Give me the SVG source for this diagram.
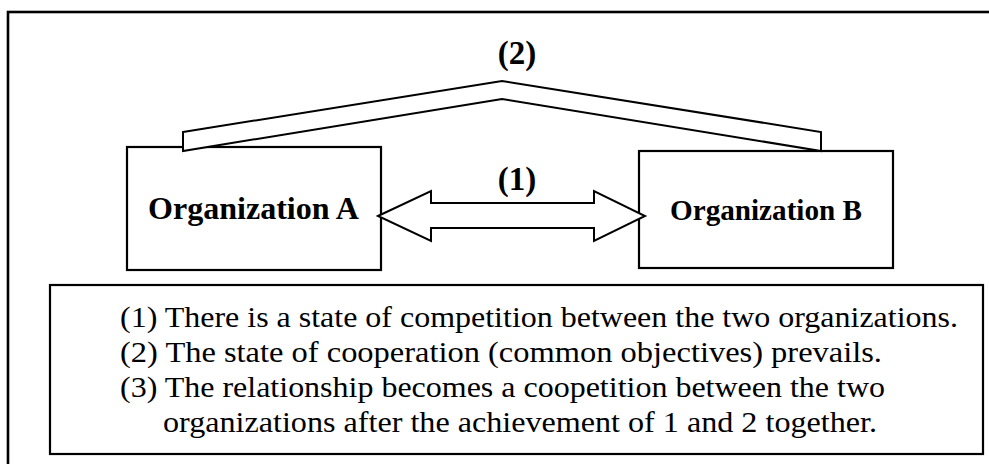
<svg xmlns="http://www.w3.org/2000/svg" width="989" height="464" viewBox="0 0 989 464">
<style>
.box{fill:#fff;stroke:#000;stroke-width:2.2}
.shape{fill:#fff;stroke:#000;stroke-width:2;stroke-linejoin:miter}
.lbl{font-family:'Liberation Serif','Times New Roman',Times,Tinos,serif;font-weight:bold;fill:#000}
.leg{font-family:'Liberation Serif','Times New Roman',Times,Tinos,serif;font-size:30px;fill:#000}
</style>
<rect x="0" y="0" width="989" height="464" fill="#fff"/>
<rect id="frame" x="8" y="12" width="1000" height="500" fill="none" stroke="#000" stroke-width="2.6"/>
<g id="orgA">
<rect class="box" x="127" y="147" width="254" height="123"/>
<text class="lbl" x="148" y="219" font-size="31" textLength="211" lengthAdjust="spacingAndGlyphs">Organization A</text>
</g>
<g id="orgB">
<rect class="box" x="639" y="151" width="254" height="117"/>
<text class="lbl" x="670" y="220" font-size="29" textLength="192" lengthAdjust="spacingAndGlyphs">Organization B</text>
</g>
<g id="connectors">
<polygon class="shape" points="378,216 431,191 431,203 594,203 594,191 645,216 594,241 594,228 431,228 431,241"/>
<text class="lbl" x="517" y="190" font-size="33" text-anchor="middle">(1)</text>
<polygon class="shape" points="183,132 502,81 821,132 821,151 502,99 183,151"/>
<text class="lbl" x="517" y="64" font-size="33" text-anchor="middle">(2)</text>
</g>
<g id="legend">
<rect class="box" x="50" y="285" width="933" height="169"/>
<text class="leg" x="120" y="327" textLength="838" lengthAdjust="spacingAndGlyphs">(1) There is a state of competition between the two organizations.</text>
<text class="leg" x="120" y="362" textLength="762" lengthAdjust="spacingAndGlyphs">(2) The state of cooperation (common objectives) prevails.</text>
<text class="leg" x="120" y="397" textLength="765" lengthAdjust="spacingAndGlyphs">(3) The relationship becomes a coopetition between the two</text>
<text class="leg" x="163" y="432" textLength="714" lengthAdjust="spacingAndGlyphs">organizations after the achievement of 1 and 2 together.</text>
</g>
</svg>
